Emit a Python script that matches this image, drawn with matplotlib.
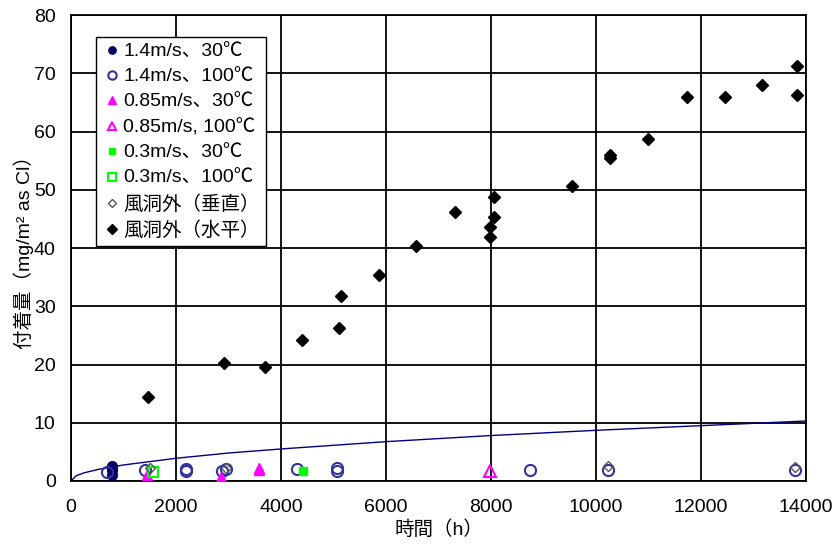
"""
付着量の経時変化（風洞内・風洞外）
"""

import matplotlib
matplotlib.use("Agg")
import matplotlib.pyplot as plt

FONT = ["Liberation Sans", "Noto Sans CJK JP"]
plt.rcParams["font.family"] = FONT

# 1.4m/s 30C
t_14_30 = [780, 780, 780]
y_14_30 = [1.0, 1.8, 2.5]
# 1.4m/s 100C
t_14_100 = [680, 1410, 2190, 2190, 2870, 2950, 4300, 5060, 5060, 8740, 10230, 13790]
y_14_100 = [1.6, 1.8, 1.7, 2.0, 1.7, 2.0, 2.0, 1.7, 2.3, 1.8, 1.8, 1.8]
# 0.85m/s 30C
t_085_30 = [1450, 2850, 3580, 3580]
y_085_30 = [1.0, 0.7, 1.9, 2.3]
# 0.85m/s 100C
t_085_100 = [7990]
y_085_100 = [1.7]
# 0.3m/s 30C
t_03_30 = [4420]
y_03_30 = [1.7]
# 0.3m/s 100C
t_03_100 = [1560]
y_03_100 = [1.6]
# 風洞外 垂直
t_vert = [1500, 2950, 10230, 13790]
y_vert = [2.2, 2.2, 2.5, 2.4]
# 風洞外 水平
t_horz = [1460, 2910, 3700, 4400, 5100, 5140, 5870, 6570, 7310, 7980, 7980,
          8050, 8050, 9540, 10260, 10260, 10990, 11730, 12460, 13160, 13830, 13830]
y_horz = [14.4, 20.3, 19.6, 24.2, 26.3, 31.8, 35.4, 40.3, 46.2, 41.9, 43.6,
          45.3, 48.8, 50.6, 55.5, 56.0, 58.7, 65.9, 65.9, 68.0, 71.2, 66.3]
# 近似曲線
t_fit = [0, 100, 250, 500, 1000, 2000, 3000, 4000, 6000, 8000, 10000, 12000, 14000]
y_fit = [0, 0.9, 1.4, 1.95, 2.75, 3.9, 4.8, 5.5, 6.75, 7.8, 8.7, 9.5, 10.3]

fig = plt.figure(figsize=(8.4, 5.54), dpi=100)
ax = fig.add_axes([0.0845, 0.1318, 0.875, 0.841])

ax.plot(t_fit, y_fit, "-", color="#000080", lw=1.0, zorder=2)

ms = 7
ax.plot(t_14_30, y_14_30, "o", color="#000066", ms=ms, ls="none", label="1.4m/s、30℃", zorder=3)
ax.plot(t_14_100, y_14_100, "o", mfc="none", mec="#333399", mew=1.5, ms=ms + 1, ls="none",
        label="1.4m/s、100℃", zorder=3)
ax.plot(t_085_30, y_085_30, "^", color="#FF00FF", ms=ms, ls="none", label="0.85m/s、30℃", zorder=3)
ax.plot(t_085_100, y_085_100, "^", mfc="none", mec="#FF00FF", mew=1.5, ms=ms + 1, ls="none",
        label="0.85m/s, 100℃", zorder=3)
ax.plot(t_03_30, y_03_30, "s", color="#00FF00", ms=ms - 1, ls="none", label="0.3m/s、30℃", zorder=3)
ax.plot(t_03_100, y_03_100, "s", mfc="none", mec="#00FF00", mew=1.5, ms=ms, ls="none",
        label="0.3m/s、100℃", zorder=3)
ax.plot(t_vert, y_vert, "D", mfc="none", mec="#555555", mew=1.0, ms=ms - 2, ls="none",
        label="風洞外（垂直）", zorder=3)
ax.plot(t_horz, y_horz, "D", color="black", ms=ms - 0.5, ls="none", label="風洞外（水平）", zorder=3)

ax.set_xlim(0, 14000)
ax.set_ylim(0, 80)
ax.set_xticks(range(0, 14001, 2000))
ax.set_yticks(range(0, 81, 10))
ax.grid(True, color="black", lw=1.3)
ax.set_axisbelow(True)
for sp in ax.spines.values():
    sp.set_color("black")
    sp.set_linewidth(1.3)
ax.tick_params(length=0, labelsize=14)
ax.tick_params(axis="x", pad=13)
ax.tick_params(axis="y", pad=11)

ax.set_xlabel("時間（h）", fontsize=14, labelpad=3)
ax.set_ylabel("付着量（mg/m² as Cl）", fontsize=14, labelpad=0)

leg = ax.legend(loc="upper left", bbox_to_anchor=(0.034, 0.953), borderaxespad=0,
                fancybox=False, framealpha=1, edgecolor="black", fontsize=14,
                handletextpad=0.1, handlelength=1.0, labelspacing=0.4, borderpad=0.3,
                markerscale=0.75)
leg.get_frame().set_linewidth(1.0)

plt.savefig("out.png", dpi=100)
plt.close()
